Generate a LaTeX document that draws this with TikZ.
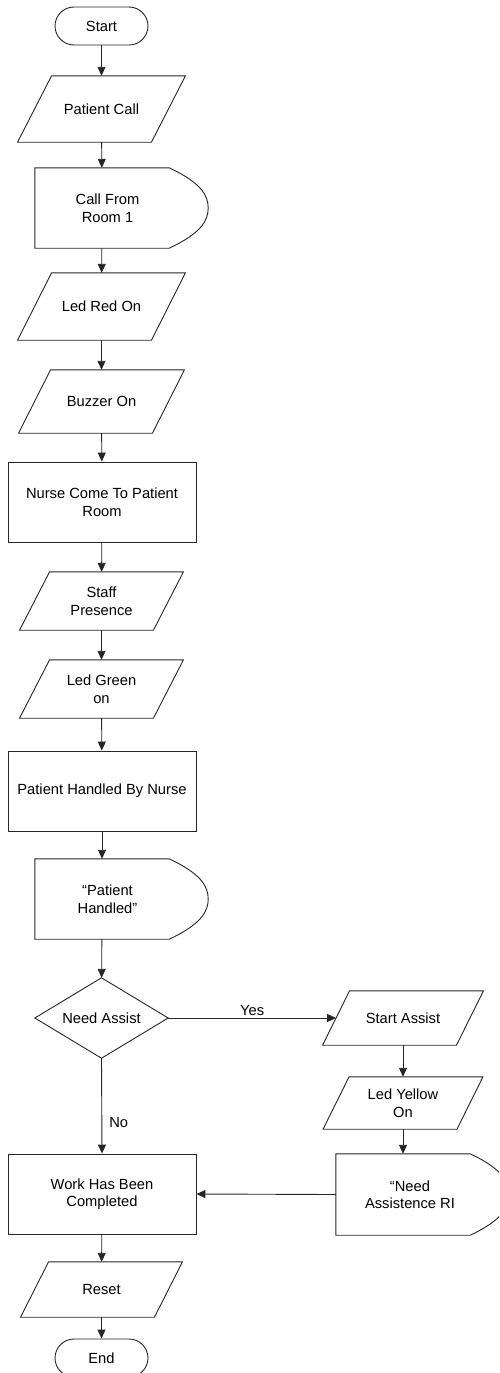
\documentclass[tikz,border=0pt]{standalone}
\usepackage{fontspec}
\setmainfont{Liberation Sans}
\usetikzlibrary{arrows.meta}
\newcommand\drawio[2]{\draw[outl] ([xshift=#2pt]#1.north west) -- ([xshift=#2pt]#1.north east) -- ([xshift=-#2pt]#1.south east) -- ([xshift=-#2pt]#1.south west) -- cycle;}
\newcommand\drawdisp[2]{\draw[outl] (#1.north east) -- (#1.north west) -- (#1.south west) -- (#1.south east) .. controls +(32pt,15pt) and +(0,-12.5pt) .. ([xshift=#2pt]#1.east) .. controls +(0,12.5pt) and +(32pt,-15pt) .. (#1.north east);}
\begin{document}
\begin{tikzpicture}[x=1pt,y=-1pt,
  outl/.style={draw=black!85, line width=0.9pt},
  base/.style={inner sep=0pt, align=center, font=\fontsize{14.7}{17.5}\selectfont},
  term/.style={base, outl, rounded corners=19pt, minimum width=93pt, minimum height=38pt},
  proc/.style={base, outl, minimum width=188pt, minimum height=80pt},
  io/.style={base, minimum width=133.5pt},
  disp/.style={base, minimum width=134pt, minimum height=80pt},
  dec/.style={base, minimum width=133pt, minimum height=80pt},
  lbl/.style={inner sep=0pt, font=\fontsize{14.7}{17.5}\selectfont},
  arr/.style={outl, -{Triangle[length=9pt,width=8pt]}}]
\path[clip] (0,0) rectangle (499,1373);
% main column
\node[term] (start) at (101.5,26) {Start};
\node[io, minimum height=66pt] (pcall) at (101.5,109) {Patient Call};
\node[disp] (room1) at (102,208) {\hspace*{11pt}Call From\\\hspace*{11pt}Room 1};
\node[io, minimum height=67pt] (ledred) at (101.5,306.5) {Led Red On};
\node[io, minimum height=63pt] (buzzer) at (101.5,401.5) {Buzzer On};
\node[proc] (nurse) at (102,502) {Nurse Come To Patient\\Room};
\node[io, minimum height=58pt] (staff) at (101.5,601) {Staff\\Presence};
\node[io, minimum height=58pt] (ledgreen) at (101.5,689) {Led Green\\on};
\node[proc] (handled) at (102,791) {Patient Handled By Nurse};
\node[disp] (phandled) at (102,899) {\hspace*{11pt}“Patient\\\hspace*{11pt}Handled”};
\node[dec] (dia) at (101.5,1018) {Need Assist};
\node[proc] (work) at (102,1194) {Work Has Been\\Completed};
\node[io, minimum height=55pt] (reset) at (101.5,1289.5) {Reset};
\node[term] (end) at (101.5,1358) {End};
% right column
\node[io, minimum height=54pt] (sassist) at (403,1018) {Start Assist};
\node[io, minimum height=52pt] (ledyellow) at (403,1103) {Led Yellow\\On};
\node[disp, minimum height=81pt] (needa) at (403,1194.5) {\hspace*{14pt}“Need\\\hspace*{14pt}Assistence RI};
% outlines
\drawio{pcall}{17}
\drawio{ledred}{17}
\drawio{buzzer}{16}
\drawio{staff}{15}
\drawio{ledgreen}{15}
\drawio{reset}{14}
\drawio{sassist}{13.5}
\drawio{ledyellow}{13}
\drawdisp{room1}{39}
\drawdisp{phandled}{39}
\drawdisp{needa}{39}
\draw[outl] (dia.north) -- (dia.east) -- (dia.south) -- (dia.west) -- cycle;
% connectors
\draw[arr] (start) -- (pcall);
\draw[arr] (pcall) -- (room1);
\draw[arr] (room1) -- (ledred);
\draw[arr] (ledred) -- (buzzer);
\draw[arr] (buzzer) -- (nurse);
\draw[arr] (nurse) -- (staff);
\draw[arr] (staff) -- (ledgreen);
\draw[arr] (ledgreen) -- (handled);
\draw[arr] (handled) -- (phandled);
\draw[arr] (phandled) -- (dia);
\draw[arr] (dia.east) -- node[lbl, above=2pt] {Yes} (sassist.west);
\draw[arr] (dia.south) -- node[lbl, pos=0.67, right=7pt] {No} (work.north);
\draw[arr] (sassist) -- (ledyellow);
\draw[arr] (ledyellow) -- (needa);
\draw[arr] (needa.west) -- (work.east);
\draw[arr] (work) -- (reset);
\draw[arr] (reset) -- (end);
\end{tikzpicture}
\end{document}
